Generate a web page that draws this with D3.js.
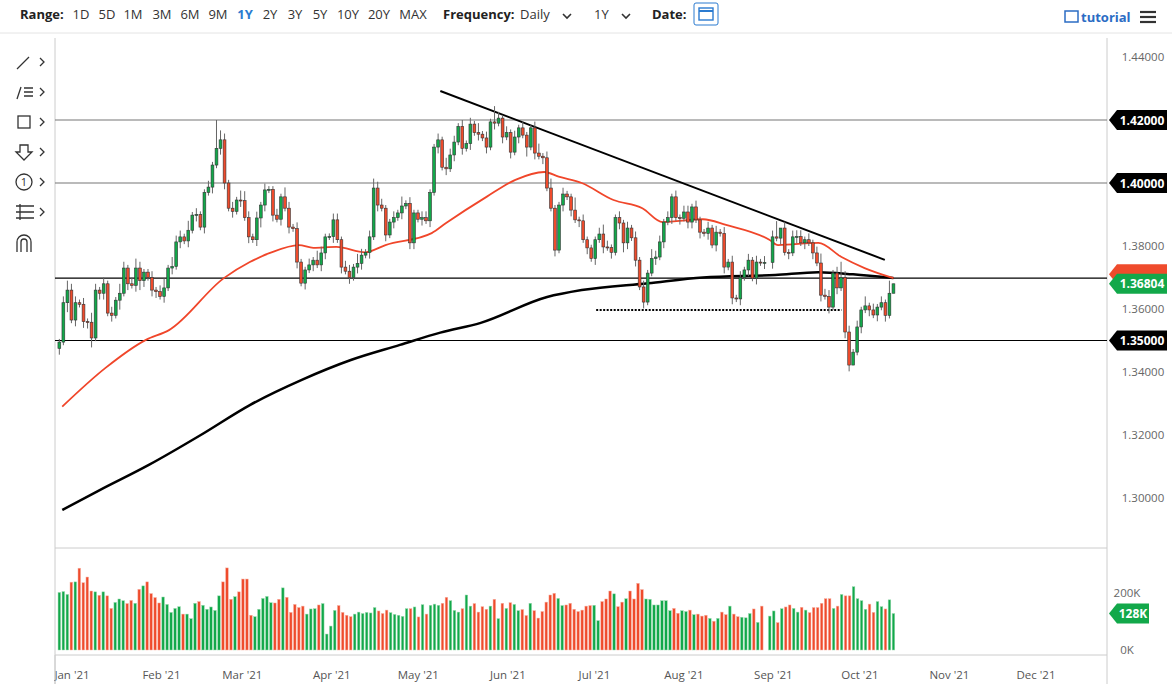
<!DOCTYPE html>
<html>
<head>
<meta charset="utf-8">
<script src="https://cdn.jsdelivr.net/npm/d3@7"></script>
<style>
  body { margin: 0; background: #fff; font-family: "Open Sans", "Noto Sans", sans-serif; }
  svg text { font-family: "Open Sans", "Noto Sans", sans-serif; }
</style>
</head>
<body>
<svg id="chart" width="1172" height="694"></svg>
<script>
const width = 1172;
const height = 694;
const svg = d3.select("#chart");

// daily closes, Dec 29 2020 .. Oct 14 2021 (null = no trading)
const closes = [
  1.3495,1.362,1.366,1.3565,1.362,1.3615,1.356,1.3558,1.3508,1.366,1.365,1.368,1.3587,1.358,1.3628,1.365,1.373,1.368,1.3675,1.373,1.369,1.3717,1.370,1.366,1.3655,1.364,1.3667,1.373,1.3735,1.3813,1.3829,1.3816,1.385,1.3898,1.390,1.386,1.397,1.3987,1.4057,1.411,1.4137,1.400,1.392,1.391,1.3946,1.3944,1.389,1.3829,1.382,1.3889,1.393,1.3978,
  1.398,1.3898,1.3885,1.3956,1.392,1.386,1.3855,1.3749,1.3682,1.3724,1.374,1.3755,1.374,1.3778,1.3829,1.383,1.3883,1.382,1.3733,1.372,1.370,1.3733,1.3745,1.3771,1.378,1.3829,1.3984,1.393,1.392,1.3835,1.3876,1.389,1.3905,1.3927,1.3935,1.381,1.3905,1.3885,1.389,1.388,1.397,1.4114,1.4137,1.405,1.4045,1.4089,1.413,1.418,1.411,1.4125,1.4187,1.416,1.4155,
  1.4143,1.4114,1.4194,1.419,1.4206,1.4146,1.416,1.4098,1.4146,1.4175,1.4152,1.4114,1.4175,1.4095,1.4085,1.408,1.3984,1.392,1.3787,1.393,1.3965,1.3956,1.3914,1.3883,1.388,1.382,1.3794,1.376,1.382,1.3838,1.3797,1.3795,1.378,1.389,1.3873,1.381,1.3857,1.3826,1.3755,1.367,1.3622,1.3714,1.376,1.3765,1.3813,1.3876,1.389,1.3956,1.389,1.3888,1.3908,1.3876,
  1.3924,1.3883,1.3844,1.384,1.3857,1.3803,1.3844,1.384,1.3733,1.3749,1.3635,1.3632,1.370,1.3724,1.3755,1.3698,1.3749,1.3747,1.3748,null,1.3829,1.3825,1.3857,1.378,1.3778,1.3829,1.383,1.381,1.382,1.381,1.3778,1.3746,1.3644,1.364,1.3606,1.3714,1.3667,1.370,1.3527,1.3422,1.3463,1.3543,1.3597,1.361,1.3597,1.3581,1.3606,1.362,1.358,1.365,1.3680
];
// wick lengths above / below the body, in units of 0.001
const wickUp = ("1232212132121213212321121231322131211219321213321212" +
                "1121321211213211221221321232211213121122112132212121" +
                "3121521212121123123112114121112321121212121322121212" +
                "212112121212121212121250212221212322125221213121214").split("").map(Number);
const wickDn = ("2131212231221213121232122121212121212121221212121232" +
                "1212121212121221212121221212121212122121212121212121" +
                "2121212121213121211212121212121212123212121121212121" +
                "221212121212121212121212121212121212121220121212121").split("").map(Number);

// daily volume in thousands
const volumes = [
  202,205,195,238,239,287,236,256,207,204,192,204,190,146,167,179,173,163,174,164,213,225,239,198,184,165,186,160,132,146,152,126,126,110,164,170,157,143,151,139,190,239,288,178,187,204,249,249,122,117,143,181,188,166,165,178,218,185,132,160,149,154,126,144,145,158,163,56,84,139,156,132,122,117,126,133,128,132,130,149,137,128,140,131,125,122,118,145,145,151,116,159,126,157,161,157,164,185,173,139,133,145,193,154,163,133,
  152,143,154,178,110,164,146,166,160,138,142,121,164,138,112,135,168,193,199,181,156,158,164,143,135,140,154,156,157,103,170,179,207,197,152,168,180,207,179,234,212,179,178,158,158,173,173,138,146,129,138,135,140,124,126,119,122,111,101,111,133,124,154,126,117,115,113,128,144,97,154,null,119,137,96,145,151,158,146,133,150,140,131,149,149,164,180,180,146,154,195,190,190,222,180,173,143,161,132,170,152,144,176,128
];

// moving averages
const ma50Dates = ["2020-12-30","2021-01-14","2021-01-28","2021-02-05","2021-02-24","2021-03-05","2021-03-12","2021-03-22","2021-03-27","2021-04-04","2021-04-14","2021-04-21","2021-05-07","2021-05-12","2021-05-26","2021-06-05","2021-06-15","2021-06-20","2021-06-28","2021-07-09","2021-07-19","2021-07-26","2021-08-09","2021-08-17","2021-09-01","2021-09-04","2021-09-18","2021-09-26","2021-10-04","2021-10-14"];
const ma50Values = [1.329,1.3413,1.3502,1.3533,1.3698,1.3749,1.3778,1.3803,1.3794,1.3797,1.378,1.3803,1.3841,1.3873,1.3956,1.401,1.4035,1.402,1.400,1.3946,1.392,1.3876,1.3885,1.3867,1.382,1.3803,1.381,1.3765,1.373,1.3698];
const ma200Dates = ["2020-12-30","2021-01-12","2021-01-29","2021-02-16","2021-03-05","2021-03-23","2021-04-09","2021-04-26","2021-05-10","2021-05-24","2021-06-16","2021-06-28","2021-07-21","2021-08-09","2021-09-03","2021-09-18","2021-09-30","2021-10-14"];
const ma200Values = [1.2962,1.3025,1.3105,1.32,1.3295,1.3375,1.3438,1.3486,1.3525,1.3556,1.3638,1.366,1.3682,1.370,1.3708,1.3717,1.371,1.3698];

const trendDates = ["2021-05-10","2021-10-11"];
const trendValues = [1.4292,1.3756];
const supportDates = ["2021-07-03","2021-09-26"];
const supportValue = 1.3597;
const levels = [1.42, 1.40, 1.35];
const resistance = 1.3698;
const lastPrice = 1.36804;
const lastVolume = 128;
const priceTicks = [1.30,1.32,1.34,1.36,1.38,1.40,1.42,1.44];
const volTicks = [0, 100, 200];
const monthTicks = ["2021-01-01","2021-02-01","2021-03-01","2021-04-01","2021-05-01","2021-06-01","2021-07-01","2021-08-01","2021-09-01","2021-10-01","2021-11-01","2021-12-01"];
const rangeItems = ["1D","5D","1M","3M","6M","9M","1Y","2Y","3Y","5Y","10Y","20Y","MAX"];

const GREEN = "#12a84a", RED = "#ef4b2c";
const left = 55, right = 1107, pTop = 38, pBottom = 548, vTop = 552, vBottom = 655;
const parse = d3.utcParse("%Y-%m-%d");

const x = d3.scaleUtc().domain([parse("2021-01-01"), parse("2021-12-01")]).range([68, 1032]);
const y = d3.scaleLinear().domain([1.30, 1.44]).range([498, 57]);
const yv = d3.scaleLinear().domain([0, 200]).range([650, 593]);
const xi = d3.scaleLinear().domain([0, closes.length - 1]).range([x(parse("2020-12-29")), x(parse("2021-10-14"))]);
const xv = d3.scaleLinear().domain([0, volumes.length - 1]).range(xi.range());

// build candles
let prev = closes[0] - 0.002;
const candles = [];
closes.forEach((c, i) => {
  if (c == null) return;
  const o = prev;
  candles.push({ i, o, c, h: Math.max(o, c) + (wickUp[i] || 0) * 0.001, l: Math.min(o, c) - (wickDn[i] || 0) * 0.001 });
  prev = c;
});
const dirAt = i => {
  const k = Math.round(i * (closes.length - 1) / (volumes.length - 1));
  const cd = candles.find(d => d.i >= k) || candles[candles.length - 1];
  return cd.c >= cd.o;
};

svg.append("defs").append("clipPath").attr("id", "clip")
  .append("rect").attr("x", left).attr("y", pTop).attr("width", right - left).attr("height", pBottom - pTop);

// frame
svg.append("line").attr("x1", left).attr("x2", left).attr("y1", pTop).attr("y2", 684).attr("stroke", "#ccc");
svg.append("line").attr("x1", right).attr("x2", right).attr("y1", pTop).attr("y2", 684).attr("stroke", "#ccc");
svg.append("line").attr("x1", left).attr("x2", right).attr("y1", pBottom).attr("y2", pBottom).attr("stroke", "#ccc");
svg.append("line").attr("x1", left).attr("x2", right).attr("y1", vBottom).attr("y2", vBottom).attr("stroke", "#ccc");
svg.append("line").attr("x1", 0).attr("x2", 1172).attr("y1", 33).attr("y2", 33).attr("stroke", "#e4e4e4");

const plot = svg.append("g").attr("clip-path", "url(#clip)");

// horizontal levels
plot.selectAll("line.level").data(levels.concat([resistance])).join("line")
  .attr("x1", left).attr("x2", right)
  .attr("y1", d => y(d)).attr("y2", d => y(d))
  .attr("stroke", (d, i) => i < 2 ? "#777" : "#000").attr("stroke-width", 1.2);

// moving averages
const line = d3.line().x(d => x(d[0])).y(d => y(d[1])).curve(d3.curveMonotoneX);
plot.append("path").datum(ma200Dates.map((d, i) => [parse(d), ma200Values[i]]))
  .attr("d", line).attr("fill", "none").attr("stroke", "#000").attr("stroke-width", 2.5);
plot.append("path").datum(ma50Dates.map((d, i) => [parse(d), ma50Values[i]]))
  .attr("d", line).attr("fill", "none").attr("stroke", "#f0462a").attr("stroke-width", 1.8);

// trend + support
plot.append("line")
  .attr("x1", x(parse(trendDates[0]))).attr("y1", y(trendValues[0]))
  .attr("x2", x(parse(trendDates[1]))).attr("y2", y(trendValues[1]))
  .attr("stroke", "#000").attr("stroke-width", 2);
plot.append("line")
  .attr("x1", x(parse(supportDates[0]))).attr("x2", x(parse(supportDates[1])))
  .attr("y1", y(supportValue)).attr("y2", y(supportValue))
  .attr("stroke", "#000").attr("stroke-width", 2).attr("stroke-dasharray", "2,1.5");

// candles
const cg = plot.selectAll("g.candle").data(candles).join("g");
cg.append("line")
  .attr("x1", d => xi(d.i)).attr("x2", d => xi(d.i))
  .attr("y1", d => y(d.h)).attr("y2", d => y(d.l))
  .attr("stroke", "#666").attr("stroke-width", 1);
cg.append("rect")
  .attr("x", d => xi(d.i) - 1.4).attr("width", 2.8)
  .attr("y", d => y(Math.max(d.o, d.c)))
  .attr("height", d => Math.max(1, Math.abs(y(d.o) - y(d.c))))
  .attr("fill", d => d.c >= d.o ? GREEN : RED)
  .attr("stroke", "#333").attr("stroke-width", 0.6);

// volume
svg.append("g").selectAll("rect").data(volumes.map((v, i) => ({ v, i })).filter(d => d.v != null)).join("rect")
  .attr("x", d => xv(d.i) - 1.3).attr("width", 2.6)
  .attr("y", d => yv(d.v)).attr("height", d => yv(0) - yv(d.v))
  .attr("fill", d => dirAt(d.i) ? GREEN : RED)
  .attr("stroke", d => dirAt(d.i) ? "#9fdcb3" : "#f7b3a5").attr("stroke-width", 0.5);

// right axis labels
svg.selectAll("text.pt").data(priceTicks).join("text")
  .attr("x", 1143).attr("y", d => y(d) + 4).attr("text-anchor", "middle")
  .attr("font-size", 11.5).attr("fill", "#666").text(d => d.toFixed(5));
svg.selectAll("text.vt").data(volTicks).join("text")
  .attr("x", 1127).attr("y", d => yv(d) + 4).attr("text-anchor", "middle")
  .attr("font-size", 11.5).attr("fill", "#666").text(d => d === 100 ? "" : d + "K");

function tag(yy, fill, label, w) {
  const g = svg.append("g").attr("transform", `translate(1109,${yy})`);
  g.append("path").attr("d", `M0,0 L8,-10 L${w},-10 L${w},10 L8,10 Z`).attr("fill", fill);
  g.append("text").attr("x", 8 + (w - 8) / 2).attr("y", 4.5).attr("text-anchor", "middle")
    .attr("font-size", 12).attr("font-weight", "bold").attr("fill", "#fff").text(label);
}
levels.forEach(l => tag(y(l), "#000", l.toFixed(5), 58));
tag(y(ma50Values[ma50Values.length - 1]) - 4, RED, "", 58);
tag(y(lastPrice), GREEN, lastPrice.toFixed(5), 58);
tag(yv(lastVolume), GREEN, lastVolume + "K", 40);

// x axis labels
svg.selectAll("text.mt").data(monthTicks).join("text")
  .attr("x", d => x(parse(d)) + 4).attr("y", 679).attr("text-anchor", "middle")
  .attr("font-size", 11.5).attr("fill", "#555")
  .text(d => d3.utcFormat("%b '%y")(parse(d)));
svg.append("rect").attr("x", 0).attr("y", 660).attr("width", left - 1).attr("height", 34).attr("fill", "#fff");
svg.append("line").attr("x1", left).attr("x2", left).attr("y1", 655).attr("y2", 684).attr("stroke", "#ccc");

// top toolbar
const bar = svg.append("g").attr("font-size", 13);
bar.append("text").attr("x", 20).attr("y", 19).attr("font-weight", "bold").attr("fill", "#222").text("Range:");
const rx = [81,107,133,162,190,218,245,270,295,320,348,379,413];
rangeItems.forEach((r, i) => bar.append("text").attr("x", rx[i]).attr("y", 19).attr("text-anchor", "middle")
  .attr("fill", r === "1Y" ? "#2b7bd0" : "#333").attr("font-weight", r === "1Y" ? "bold" : "normal").text(r));
bar.append("text").attr("x", 443).attr("y", 19).attr("font-weight", "bold").attr("fill", "#222").text("Frequency:");
bar.append("text").attr("x", 520).attr("y", 19).attr("fill", "#333").text("Daily");
bar.append("text").attr("x", 594).attr("y", 19).attr("fill", "#333").text("1Y");
[567, 626].forEach(cx => bar.append("path").attr("d", `M${cx - 4},14 L${cx},18 L${cx + 4},14`)
  .attr("fill", "none").attr("stroke", "#333").attr("stroke-width", 1.6));
bar.append("text").attr("x", 652).attr("y", 19).attr("font-weight", "bold").attr("fill", "#222").text("Date:");
bar.append("rect").attr("x", 694).attr("y", 3).attr("width", 24).attr("height", 22).attr("rx", 2)
  .attr("fill", "#fff").attr("stroke", "#2b7bd0");
bar.append("rect").attr("x", 699).attr("y", 8).attr("width", 14).attr("height", 12)
  .attr("fill", "none").attr("stroke", "#2b7bd0").attr("stroke-width", 1.4);
bar.append("line").attr("x1", 699).attr("x2", 713).attr("y1", 11).attr("y2", 11).attr("stroke", "#2b7bd0").attr("stroke-width", 2);
bar.append("rect").attr("x", 1065).attr("y", 11).attr("width", 13).attr("height", 11).attr("fill", "none").attr("stroke", "#2b6cc4").attr("stroke-width", 1.5);
bar.append("text").attr("x", 1081).attr("y", 22).attr("font-weight", "bold").attr("fill", "#2b6cc4").text("tutorial");
[12, 17, 22].forEach(yy => bar.append("line").attr("x1", 1140).attr("x2", 1156).attr("y1", yy).attr("y2", yy)
  .attr("stroke", "#333").attr("stroke-width", 2.2));

// left drawing tools
const tools = svg.append("g").attr("stroke", "#333").attr("fill", "none").attr("stroke-width", 1.3);
[62, 92, 122, 152, 182, 212].forEach(yy => tools.append("path").attr("d", `M40,${yy - 4} L44,${yy} L40,${yy + 4}`));
tools.append("path").attr("d", "M17,69 L29,57");
tools.append("path").attr("d", "M17,99 L21,87 M24,88 L33,88 M24,92 L33,92 M24,96 L33,96");
tools.append("rect").attr("x", 18).attr("y", 116).attr("width", 12).attr("height", 12);
tools.append("path").attr("d", "M20,145 L28,145 L28,152 L32,152 L24,160 L16,152 L20,152 Z");
tools.append("circle").attr("cx", 24).attr("cy", 182).attr("r", 8);
svg.append("text").attr("x", 24).attr("y", 186).attr("text-anchor", "middle").attr("font-size", 11).attr("fill", "#333").text("1");
tools.append("path").attr("d", "M16,206 L34,206 M16,212 L34,212 M16,218 L34,218 M20,204 L20,220");
tools.append("path").attr("d", "M17,252 L17,242 A7,7 0 0 1 31,242 L31,252 M21,252 L21,242 A3,3 0 0 1 27,242 L27,252");
</script>
</body>
</html>
